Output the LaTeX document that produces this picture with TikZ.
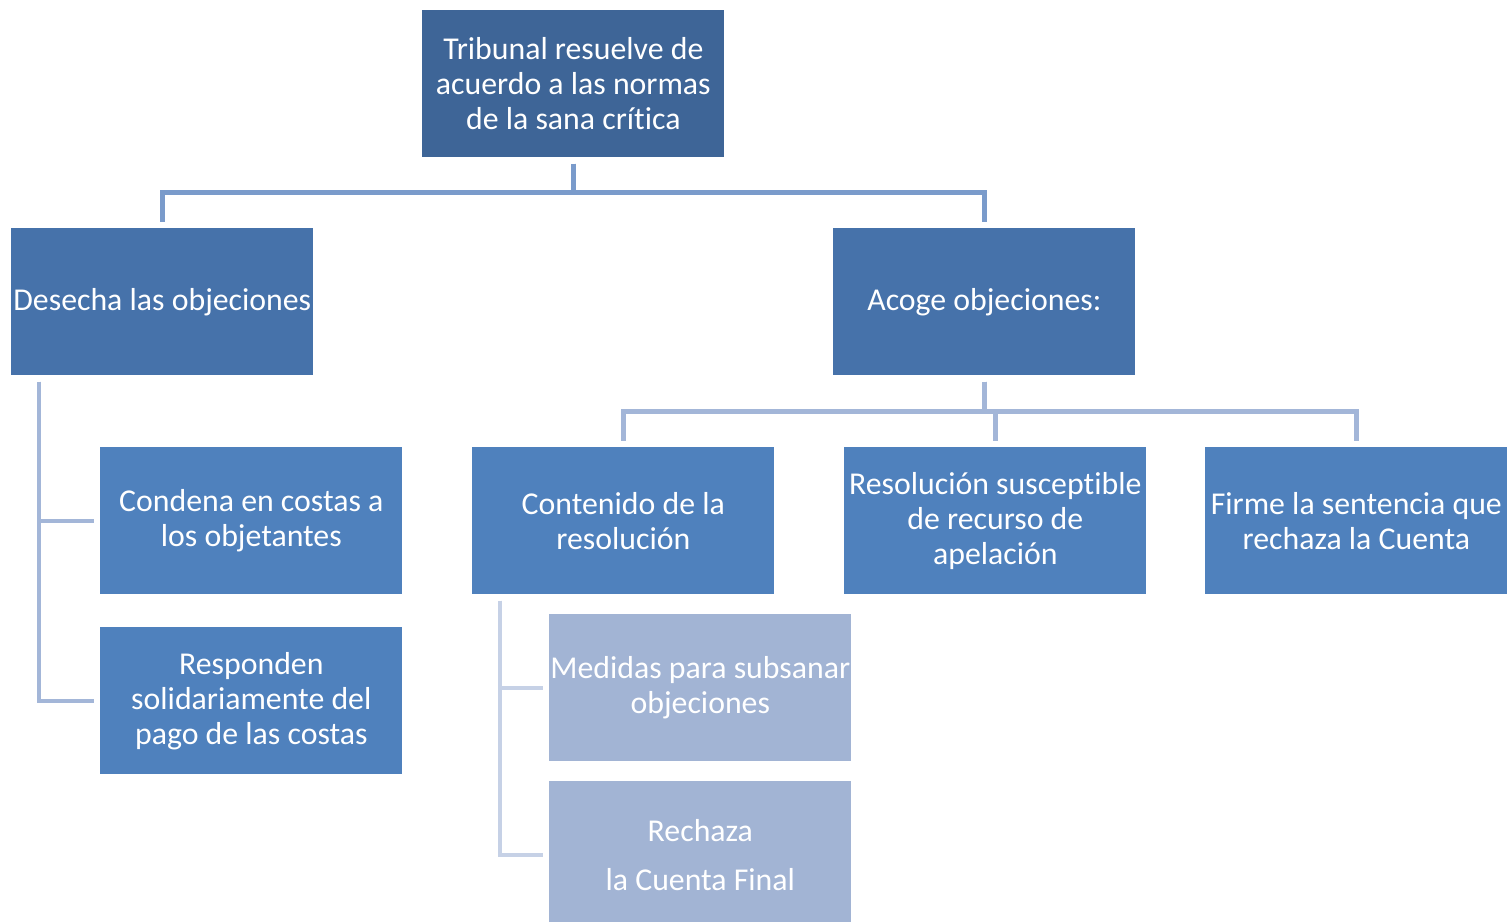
\documentclass[tikz,border=0pt]{standalone}
\usepackage{fontspec}
\setmainfont{Carlito}[Ligatures=NoCommon]
\usetikzlibrary{calc}
\definecolor{topblue}{RGB}{62,101,151}
\definecolor{midblue}{RGB}{70,114,170}
\definecolor{boxblue}{RGB}{79,129,189}
\definecolor{paleblue}{RGB}{162,180,212}
\definecolor{linkdark}{RGB}{122,155,203}
\definecolor{linkmid}{RGB}{163,182,216}
\definecolor{linklight}{RGB}{198,209,230}
\begin{document}
\begin{tikzpicture}[x=0.02cm,y=-0.02cm,
  box/.style={anchor=north west,minimum width=6.04cm,minimum height=2.94cm,inner sep=0pt,
    align=center,text=white,font=\fontsize{18.1}{19.9}\selectfont},
  link/.style={line width=2.5pt,shorten <=0.12cm,shorten >=0.12cm}]
\useasboundingbox (0,0) rectangle (1508,922);
\clip (0,0) rectangle (1508,922);
\path
(422,10)   node[box,fill=topblue]  (trib) {Tribunal resuelve de\\acuerdo a las normas\\de la sana crítica}
(11,228)   node[box,fill=midblue]  (des) {Desecha las objeciones}
(833,228)  node[box,fill=midblue]  (aco) {Acoge objeciones:}
(100,447)  node[box,fill=boxblue]  (cond) {Condena en costas a\\los objetantes}
(100,627)  node[box,fill=boxblue]  (resp) {Responden\\solidariamente del\\pago de las costas}
(472,447)  node[box,fill=boxblue]  (cont) {Contenido de la\\resolución}
(844,447)  node[box,fill=boxblue]  (apel) {Resolución susceptible\\de recurso de\\apelación}
(1205,447) node[box,fill=boxblue]  (firme) {Firme la sentencia que\\rechaza la Cuenta}
(549,614)  node[box,fill=paleblue] (med) {Medidas para subsanar\\objeciones}
(549,781)  node[box,fill=paleblue] (rech) {Rechaza\\[0.28cm]la Cuenta Final};

\draw[link,linkdark] (trib.south) -- ++(0,35) -| (des.north);
\draw[link,linkdark] (trib.south) -- ++(0,35) -| (aco.north);
\foreach \n in {cont,apel,firme}
  \draw[link,linkmid] (aco.south) -- ++(0,36) -| (\n.north);

\coordinate (dbar) at ($(des.south west)+(28,0)$);
\coordinate (cbar) at ($(cont.south west)+(28,0)$);
\foreach \n in {cond,resp}
  \draw[link,linkmid] (dbar) |- (\n.west);
\foreach \n in {med,rech}
  \draw[link,linklight] (cbar) |- (\n.west);
\end{tikzpicture}
\end{document}
